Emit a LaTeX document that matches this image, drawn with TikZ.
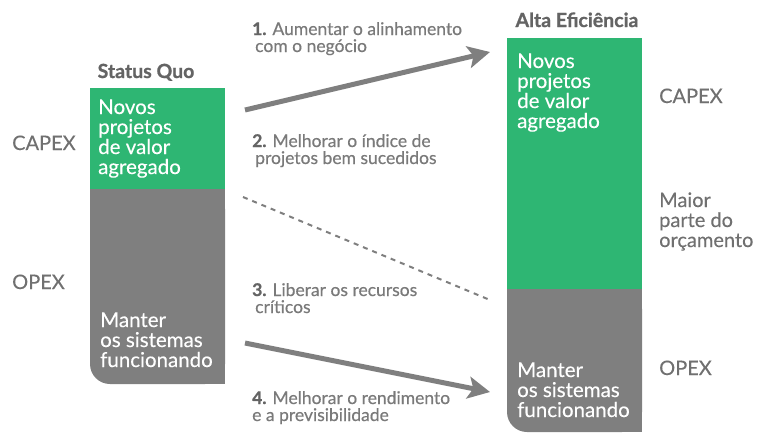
\documentclass[tikz,border=0pt]{standalone}
\usepackage{fontspec}
\setmainfont{Lato}
\newfontfamily\latomed{Lato}[FakeBold=0.5]
\newfontfamily\latobar{Lato}[FakeBold=0.25]
\newfontfamily\latotitle{Lato}[BoldFeatures={FakeBold=0.9}]
\usetikzlibrary{arrows.meta}
\definecolor{qgreen}{HTML}{2EB673}
\definecolor{qgray}{HTML}{7F7F7F}
\definecolor{qtext}{HTML}{707070}
\definecolor{qlabel}{HTML}{7A7A7A}
\definecolor{qdark}{HTML}{646464}
\begin{document}
\begin{tikzpicture}[x=1pt,y=-1pt,
  bartext/.style={text=white, font=\latobar\fontsize{20.5}{20}\selectfont, align=left, inner sep=0pt, anchor=base west},
  sidelabel/.style={text=qtext, font=\latobar\fontsize{20}{20}\selectfont, align=left, inner sep=0pt, anchor=base west},
  steplabel/.style={text=qlabel, font=\latomed\fontsize{17.5}{17}\selectfont, align=left, inner sep=0pt, anchor=base west},
  coltitle/.style={text=qdark, font=\latotitle\bfseries\fontsize{19.5}{20}\selectfont, inner sep=0pt, anchor=base},
  flow/.style={draw=qgray, line width=5pt, -{Stealth[length=22pt,width=22pt,inset=5pt]}},
  dashflow/.style={draw=qgray, line width=2pt, dash pattern=on 5pt off 5pt}]
\useasboundingbox (0,0) rectangle (757,432);
% left bar
\fill[qgray, rounded corners=20pt] (90,189) rectangle (225,384);
\fill[qgray] (90,189) rectangle (225,300);
\fill[qgray] (150,189) rectangle (225,384);
\fill[qgreen] (90,88) rectangle (225,189);
% right bar
\fill[qgray, rounded corners=20pt] (507,289) rectangle (642,432);
\fill[qgray] (507,289) rectangle (642,380);
\fill[qgray] (560,289) rectangle (642,432);
\fill[qgreen] (507,38) rectangle (642,289);
% titles
\node[coltitle] (sq) at (146,78) {Status Quo};
\node[coltitle] (ae) at (577,27) {Alta Eficiência};
% bar texts (anchor = baseline of last line)
\node[bartext] (lnew) at (98,174) {Novos\\projetos\\de valor\\agregado};
\node[bartext] (lkeep) at (100,367) {Manter\\os sistemas\\funcionando};
\node[bartext] (rnew) at (517,128) {Novos\\projetos\\de valor\\agregado};
\node[bartext] (rkeep) at (517,417) {Manter\\os sistemas\\funcionando};
% side labels
\node[sidelabel] (lcapex) at (12,150) {CAPEX};
\node[sidelabel] (lopex) at (12,289) {OPEX};
\node[sidelabel] (rcapex) at (659,103) {CAPEX};
\node[sidelabel] (rmaior) at (659,247) {Maior\\parte do\\orçamento};
\node[sidelabel] (ropex) at (659,375) {OPEX};
% step labels
\node[steplabel] (s1) at (252,52) {\textcolor{qdark}{\latotitle\bfseries 1.} Aumentar o alinhamento\\\hspace{3pt}com o negócio};
\node[steplabel] (s2) at (252,164) {\textcolor{qdark}{\latotitle\bfseries 2.} Melhorar o índice de\\\hspace{3pt}projetos bem sucedidos};
\node[steplabel] (s3) at (252,313) {\textcolor{qdark}{\latotitle\bfseries 3.} Liberar os recursos\\\hspace{3pt}críticos};
\node[steplabel] (s4) at (252,421) {\textcolor{qdark}{\latotitle\bfseries 4.} Melhorar o rendimento\\e a previsibilidade};
% connectors
\coordinate (a1s) at (245,110);
\coordinate (a1e) at (490,52);
\coordinate (a3s) at (243,197);
\coordinate (a3e) at (490,300);
\coordinate (a4s) at (245,343);
\coordinate (a4e) at (490,392);
\draw[flow] (a1s) -- (a1e);
\draw[dashflow] (a3s) -- (a3e);
\draw[flow] (a4s) -- (a4e);
\end{tikzpicture}
\end{document}
